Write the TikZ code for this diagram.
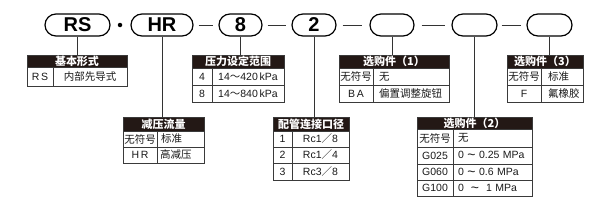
\documentclass[tikz,border=0pt]{standalone}
\usepackage{fontspec}
\setmainfont{Liberation Sans}
\newfontfamily\cjk{Noto Sans CJK SC}
\definecolor{hdr}{HTML}{231815}
\definecolor{ln}{HTML}{3A3A3A}
\newcommand\tcell[9]{%
  \pgfmathsetmacro\tcw{#5-#3-2*#8}%
  \pgfmathsetmacro\tch{#6-#4}%
  \node[#1, anchor=north west, text width=\tcw pt, align=#7, minimum height=\tch pt,
        inner xsep=#8pt, inner ysep=0pt, outer sep=0pt] (#2) at (#3,#4) {#9};}
\newcommand\tld{{\cjk ～}}
\newcommand\sls{{\cjk ／}}
\newcommand\wv{\raisebox{-1.2pt}{\fontsize{14}{12}\selectfont\textasciitilde}}
\begin{document}
\begin{tikzpicture}[x=1pt,y=-1pt,
  capsule/.style={draw=black, line width=1.2pt, rounded corners=11pt, minimum height=22pt,
              inner sep=0pt, font=\fontsize{20}{20}\selectfont\bfseries},
  hcell/.style={draw=ln, line width=0.6pt, fill=hdr, text=white,
                font=\cjk\bfseries\fontsize{11}{12}\selectfont},
  bcell/.style={draw=ln, line width=0.6pt, text=black!90, font=\fontsize{10.5}{12}\selectfont},
  link/.style={line width=0.7pt, draw=black!80}
]
\useasboundingbox (0,0) rectangle (614,206);

% code capsules
\node[capsule, minimum width=65pt] (rs) at (77.5,25) {RS};
\node[circle, fill=black, inner sep=0pt, minimum size=4.5pt] (dot) at (120,25) {};
\node[capsule, minimum width=62pt] (hr) at (162,25) {HR};
\node[capsule, minimum width=43pt] (p8) at (240.5,25) {8};
\node[capsule, minimum width=44pt] (p2) at (314,25) {2};
\node[capsule, minimum width=44pt] (o1) at (392,25) {};
\node[capsule, minimum width=45pt] (o2) at (474.5,25) {};
\node[capsule, minimum width=45pt] (o3) at (549.5,25) {};

\draw[link] ([xshift=5pt]hr.east) -- ([xshift=-5pt]p8.west);
\draw[link] ([xshift=5pt]p8.east) -- ([xshift=-5pt]p2.west);
\draw[link] ([xshift=6pt]p2.east) -- ([xshift=-7pt]o1.west);
\draw[link] ([xshift=7pt]o1.east) -- ([xshift=-6pt]o2.west);
\draw[link] ([xshift=4pt]o2.east) -- ([xshift=-5pt]o3.west);

% T1 基本形式
\tcell{hcell}{t1h}{27}{55}{127}{67}{center}{1}{基本形式}
\tcell{bcell}{t1a}{27}{67}{53}{86}{center}{1}{R\,S}
\tcell{bcell}{t1b}{53}{67}{127}{86}{center}{1}{\cjk 内部先导式}

% T2 减压流量
\tcell{hcell}{t2h}{123}{117}{204}{131}{center}{1}{减压流量}
\tcell{bcell}{t2a}{123}{131}{157}{147}{center}{0.5}{\cjk 无符号}
\tcell{bcell}{t2b}{157}{131}{204}{147}{left}{4}{\cjk 标准}
\tcell{bcell}{t2c}{123}{147}{157}{163}{center}{1}{H\,R}
\tcell{bcell}{t2d}{157}{147}{204}{163}{left}{3}{\cjk 高减压}

% T3 压力设定范围
\tcell{hcell}{t3h}{192}{55}{284}{68}{center}{1}{压力设定范围}
\tcell{bcell}{t3a}{192}{68}{212}{85}{center}{1}{4}
\tcell{bcell}{t3b}{212}{68}{284}{85}{center}{1}{14\tld420\,kPa}
\tcell{bcell}{t3c}{192}{85}{212}{102}{center}{1}{8}
\tcell{bcell}{t3d}{212}{85}{284}{102}{center}{1}{14\tld840\,kPa}

% T4 配管连接口径
\tcell{hcell}{t4h}{273}{117}{349}{131}{center}{0}{配管连接口径}
\tcell{bcell}{t4a}{273}{131}{292}{147}{center}{1}{1}
\tcell{bcell}{t4b}{292}{131}{349}{147}{center}{1}{Rc1\sls8}
\tcell{bcell}{t4c}{273}{147}{292}{163}{center}{1}{2}
\tcell{bcell}{t4d}{292}{147}{349}{163}{center}{1}{Rc1\sls4}
\tcell{bcell}{t4e}{273}{163}{292}{180}{center}{1}{3}
\tcell{bcell}{t4f}{292}{163}{349}{180}{center}{1}{Rc3\sls8}

% T5 选购件(1)
\tcell{hcell}{t5h}{339}{55}{449}{68}{center}{1}{选购件（1）}
\tcell{bcell}{t5a}{339}{68}{373}{85}{center}{0.5}{\cjk 无符号}
\tcell{bcell}{t5b}{373}{68}{449}{85}{left}{6}{\cjk 无}
\tcell{bcell}{t5c}{339}{85}{373}{102}{center}{1}{B\,A}
\tcell{bcell}{t5d}{373}{85}{449}{102}{left}{6}{\cjk 偏置调整旋钮}

% T6 选购件(2)
\tcell{hcell}{t6h}{417}{117}{532}{129}{center}{1}{选购件（2）}
\tcell{bcell}{t6a}{417}{129}{453}{147}{center}{0.5}{\cjk 无符号}
\tcell{bcell}{t6b}{453}{129}{532}{147}{left}{5}{\cjk 无}
\tcell{bcell}{t6c}{417}{147}{453}{164}{center}{1}{G025}
\tcell{bcell}{t6d}{453}{147}{532}{164}{left}{5}{\mbox{0 \wv\ 0.25 MPa}}
\tcell{bcell}{t6e}{417}{164}{453}{180}{center}{1}{G060}
\tcell{bcell}{t6f}{453}{164}{532}{180}{left}{5}{\mbox{0 \wv\ 0.6 MPa}}
\tcell{bcell}{t6g}{417}{180}{453}{196}{center}{1}{G100}
\tcell{bcell}{t6i}{453}{180}{532}{196}{left}{5}{\mbox{0 \ \wv\ \ 1 MPa}}

% T7 选购件(3)
\tcell{hcell}{t7h}{507}{55}{583}{68}{center}{1}{选购件（3）}
\tcell{bcell}{t7a}{507}{68}{541}{85}{center}{0.5}{\cjk 无符号}
\tcell{bcell}{t7b}{541}{68}{583}{85}{left}{7}{\cjk 标准}
\tcell{bcell}{t7c}{507}{85}{541}{102}{center}{1}{F}
\tcell{bcell}{t7d}{541}{85}{583}{102}{left}{7}{\cjk 氟橡胶}

% connectors from code to tables
\draw[link] (rs.south) -- (rs.south |- t1h.north);
\draw[link] (hr.south) -- (hr.south |- t2h.north);
\draw[link] (p8.south) -- (p8.south |- t3h.north);
\draw[link] (p2.south) -- (p2.south |- t4h.north);
\draw[link] (o1.south) -- (o1.south |- t5h.north);
\draw[link] (o2.south) -- (o2.south |- t6h.north);
\draw[link] (o3.south) -- (o3.south |- t7h.north);
\end{tikzpicture}
\end{document}
